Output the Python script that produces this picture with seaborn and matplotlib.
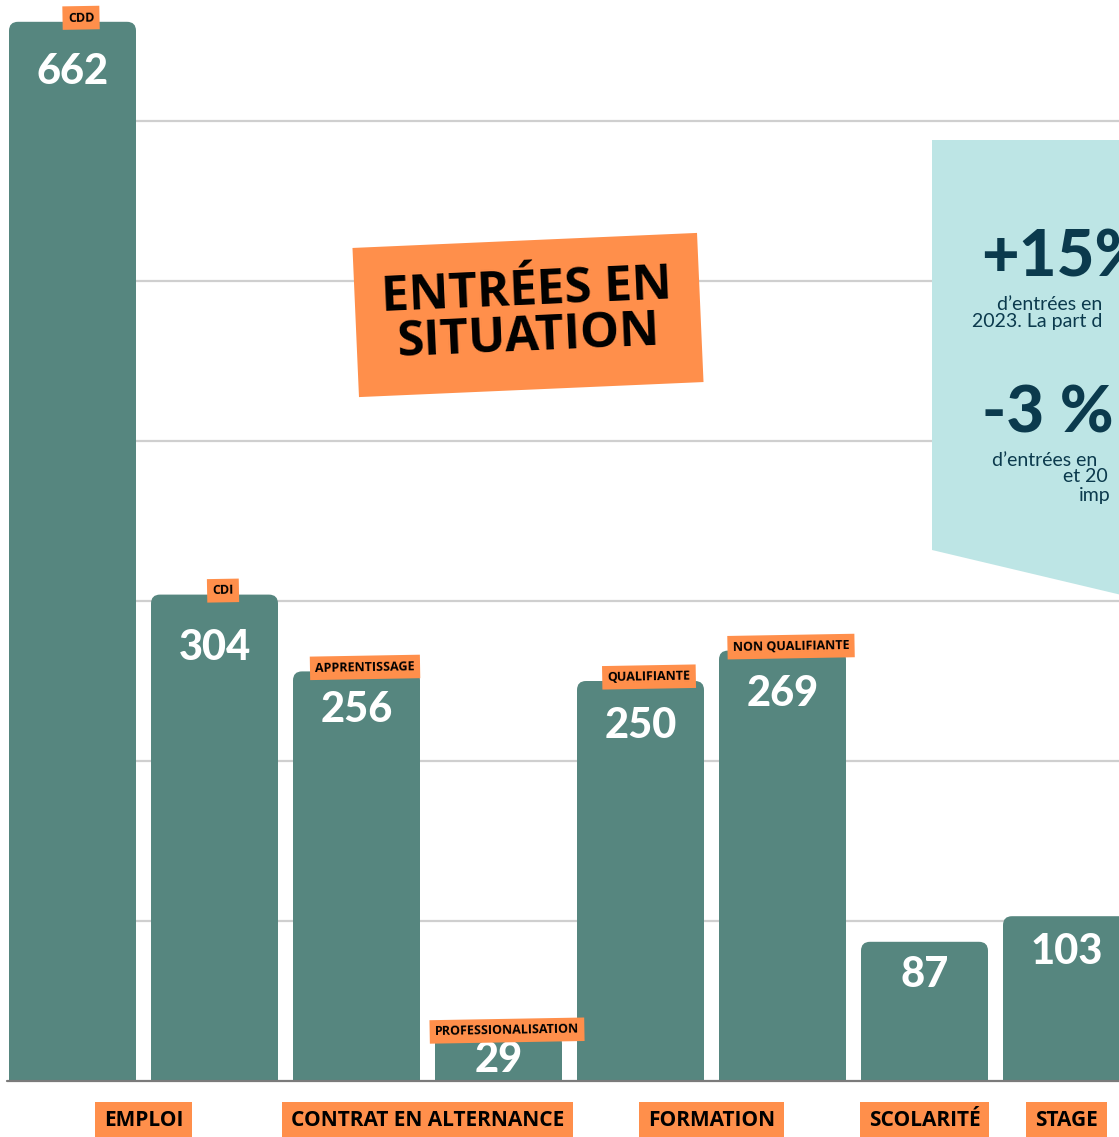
import matplotlib
matplotlib.use("Agg")
import matplotlib.pyplot as plt
import seaborn as sns
from matplotlib.patches import FancyBboxPatch, Rectangle, Polygon

# Data
bar_keys = ["CDD", "CDI", "APPRENTISSAGE", "PROFESSIONALISATION",
            "QUALIFIANTE", "NON QUALIFIANTE", "SCOLARITÉ", "STAGE"]
values = [662, 304, 256, 29, 250, 269, 87, 103]
tags = ["CDD", "CDI", "APPRENTISSAGE", "PROFESSIONALISATION",
        "QUALIFIANTE", "NON QUALIFIANTE", None, None]
groups = ["EMPLOI", "CONTRAT EN ALTERNANCE", "FORMATION", "SCOLARITÉ", "STAGE"]
group_members = [[0, 1], [2, 3], [4, 5], [6], [7]]

BAR = "#56867f"
ORANGE = "#ff8f4b"
NAVY = "#0b3a4d"
CYAN = "#bde5e5"

W, H = 1119, 1137
PX_X = 142.0   # pixels per category
PX_Y = 1.6     # pixels per unit
X0 = 72.5      # pixel centre of first bar
BASE = 1081    # pixel row of y=0


def px(xp, yp):
    """pixel (from top-left) -> data coords"""
    return (xp - X0) / PX_X, (BASE - yp) / PX_Y


sns.set_style("white")
plt.rcParams["font.family"] = ["Lato", "DejaVu Sans"]

fig = plt.figure(figsize=(W / 100, H / 100), dpi=100)
ax = fig.add_axes([0, 0, 1, 1])

sns.barplot(x=bar_keys, y=values, order=bar_keys, color=BAR, saturation=1,
            width=127 / PX_X, ax=ax, zorder=3)

ax.set_xlim(px(0, 0)[0], px(W, 0)[0])
ax.set_ylim(px(0, H)[1], px(0, 0)[1])
ax.axis("off")

# gridlines (starting right of the first bar) and baseline
for g in range(100, 700, 100):
    ax.axhline(g, xmin=136 / W, color="#cfcfcf", lw=1.6, zorder=1)
ax.axhline(0, xmin=7 / W, color="#7a7a7a", lw=1.6, zorder=4)

# rounded top corners
r_px = 9
for p in list(ax.patches):
    x0, w, h = p.get_x(), p.get_width(), p.get_height()
    p.set_visible(False)
    rs = r_px / PX_X
    ax.add_patch(FancyBboxPatch((x0, 0), w, h,
                                boxstyle=f"round,pad=0,rounding_size={rs}",
                                mutation_aspect=(r_px / PX_Y) / rs,
                                fc=BAR, ec="none", zorder=3))
    ax.add_patch(Rectangle((x0, 0), w, max(h - r_px / PX_Y, 0),
                           fc=BAR, ec="none", zorder=3))

# value labels
label_drop_px = [50, 53, 39, 25, 45, 43, 33, 36]
for i, v in enumerate(values):
    y = v - label_drop_px[i] / PX_Y
    ax.text(i, y, str(v), ha="center", va="center", color="white",
            fontsize=30, fontweight="black", zorder=6)

# small tags on top of bars
for i, (v, t) in enumerate(zip(values, tags)):
    if t is None:
        continue
    ax.text(i + 0.06, v + 4 / PX_Y, t, ha="center", va="center", fontsize=9,
            fontweight="bold", family=["Open Sans", "DejaVu Sans"],
            color="black", rotation=1, zorder=7,
            bbox=dict(boxstyle="square,pad=0.42", fc=ORANGE, ec="none"))

# group labels under the axis
for name, members in zip(groups, group_members):
    xc = sum(members) / len(members)
    ax.text(xc, px(0, 1121)[1], name, ha="center", va="center",
            fontsize=15, fontweight="bold", family=["Open Sans", "DejaVu Sans"],
            color="black", zorder=7,
            bbox=dict(boxstyle="square,pad=0.42", fc=ORANGE, ec="none"))

# title block
tx, ty = px(528, 315)
ax.text(tx, ty, "ENTRÉES EN\nSITUATION", ha="center", va="center",
        fontsize=35.5, fontweight="bold", family=["Open Sans", "DejaVu Sans"],
        color="black", rotation=2.5, linespacing=0.92, zorder=8,
        bbox=dict(boxstyle="square,pad=0.55", fc=ORANGE, ec="none"))

# callout box on the right
poly = [px(932, 140), px(1130, 140), px(1130, 597), px(932, 550)]
ax.add_patch(Polygon(poly, closed=True, fc=CYAN, ec="none", zorder=5))

callout = [
    (981, 258, "+15%", 47, "black"),
    (997, 305, "d’entrées en", 14, "normal"),
    (972, 322, "2023. La part d", 14, "normal"),
    (982, 414, "-3 %", 47, "black"),
    (992, 460, "d’entrées en", 14, "normal"),
    (1063, 477, "et 20", 14, "normal"),
    (1079, 495, "imp", 14, "normal"),
]
for xp_, yp_, s, fs, fw in callout:
    cx, cy = px(xp_, yp_)
    ax.text(cx, cy, s, ha="left", va="center", fontsize=fs, fontweight=fw,
            family=["Lato", "DejaVu Sans"], color=NAVY, zorder=6, clip_on=True)

fig.savefig("out.png", dpi=100)
